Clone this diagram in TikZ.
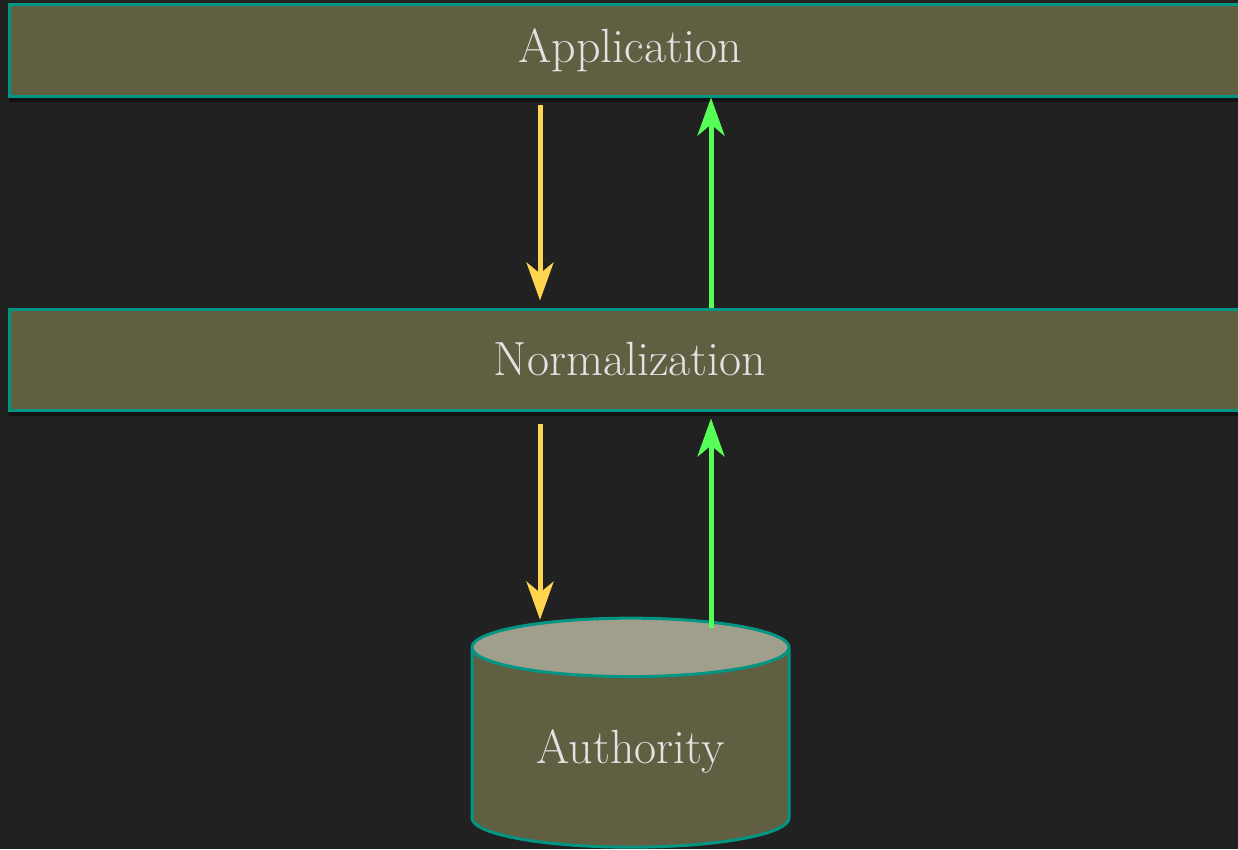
\documentclass[tikz,border=0pt]{standalone}
\usetikzlibrary{shapes.geometric,arrows.meta,shadows}

\definecolor{bgdark}{HTML}{212121}
\definecolor{layerfill}{HTML}{605F42}
\definecolor{layeredge}{HTML}{009683}
\definecolor{disktop}{HTML}{A09F8C}
\definecolor{labeltext}{HTML}{E2E2E2}
\definecolor{reqyellow}{HTML}{FFD54F}
\definecolor{respgreen}{HTML}{55FF55}

\tikzset{
  layer/.style={draw=layeredge, line width=3pt, fill=layerfill, text=labeltext,
    font=\fontsize{48}{56}\selectfont, minimum width=1242pt,
    drop shadow={shadow xshift=0pt, shadow yshift=-6pt, fill=black, opacity=0.45}},
  store/.style={cylinder, shape border rotate=90, aspect=0.3, draw=layeredge,
    line width=3pt, cylinder uses custom fill, cylinder body fill=layerfill,
    cylinder end fill=disktop, text=labeltext, font=\fontsize{48}{56}\selectfont,
    minimum width=317pt, minimum height=229pt},
  request/.style={draw=reqyellow, line width=5pt,
    -{Stealth[length=38pt, width=27pt, inset=11pt]}},
  response/.style={draw=respgreen, line width=5pt,
    -{Stealth[length=38pt, width=27pt, inset=11pt]}}
}

\begin{document}
\begin{tikzpicture}[x=1pt,y=-1pt]
  \fill[bgdark] (0,0) rectangle (1238,849);
  \useasboundingbox (0,0) rectangle (1238,849);

  % the two layers and the store
  \node[layer, minimum height=92pt] (app) at (630,50) {Application};
  \node[layer, minimum height=101pt] (norm) at (630,359.5) {Normalization};
  \node[store] (auth) at (630.5,751) {Authority};

  % requests go down, answers come back up
  \draw[request] ([xshift=-90pt,yshift=-7pt]app.south) -- ([xshift=-90pt,yshift=7pt]norm.north);
  \draw[response] ([xshift=81pt]norm.north) -- ([xshift=81pt]app.south);
  \draw[request] ([xshift=-90pt,yshift=-12pt]norm.south) -- ([xshift=-90.5pt,yshift=-3pt]auth.north);
  \draw[response] ([xshift=80.5pt,yshift=-11pt]auth.north) -- ([xshift=81pt,yshift=-7pt]norm.south);
\end{tikzpicture}
\end{document}
